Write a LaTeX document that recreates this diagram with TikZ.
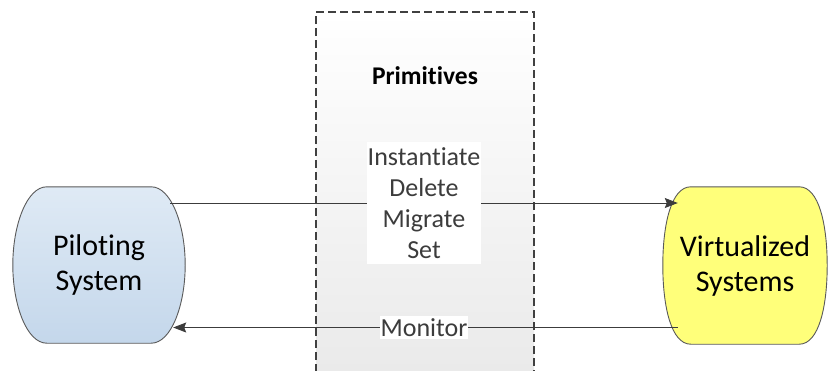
\documentclass[tikz,border=0pt]{standalone}
\usepackage{fontspec}
\setmainfont[Ligatures={NoCommon,NoContextual}]{Carlito}
\usetikzlibrary{arrows.meta,backgrounds}
\definecolor{boxLine}{RGB}{64,64,64}
\definecolor{boxTop}{RGB}{255,255,255}
\definecolor{boxBot}{RGB}{234,234,234}
\definecolor{pilTop}{RGB}{223,234,245}
\definecolor{pilBot}{RGB}{196,215,235}
\definecolor{virFill}{RGB}{255,255,122}
\definecolor{edgeLine}{RGB}{90,90,90}
\definecolor{arrLine}{RGB}{60,60,60}

% outline with bulging left/right sides, drawn round a named node
\newcommand{\sysshape}[3]{%
  \begin{scope}[on background layer]
  \draw[edgeLine,line width=0.9bp,#3]
    ([xshift=#2]#1.north west) -- ([xshift=-#2]#1.north east)
    .. controls ([xshift=-#2+20bp]#1.north east) and ([yshift=40bp]#1.east) .. (#1.east)
    .. controls ([yshift=-40bp]#1.east) and ([xshift=-#2+20bp]#1.south east) .. ([xshift=-#2]#1.south east)
    -- ([xshift=#2]#1.south west)
    .. controls ([xshift=#2-20bp]#1.south west) and ([yshift=-40bp]#1.west) .. (#1.west)
    .. controls ([yshift=40bp]#1.west) and ([xshift=#2-20bp]#1.north west) .. cycle;
  \end{scope}}

\begin{document}
\begin{tikzpicture}[x=1bp,y=-1bp,>={Stealth[length=13bp,width=10bp,inset=2bp]},
  sysbox/.style={align=center,font=\fontsize{30bp}{35bp}\selectfont,inner sep=0pt},
  prims/.style={font=\fontsize{26bp}{31bp}\selectfont,align=center},
  lbl/.style={prims,fill=white,inner xsep=1bp,inner ysep=5bp},
  fl/.style={->,line width=0.9bp,arrLine}]

\useasboundingbox (0,0) rectangle (829,370);

% primitives column
\shade[top color=boxTop,bottom color=boxBot] (316,12) rectangle (534,372);
\draw[boxLine,line width=1.1bp,dash pattern=on 8bp off 4bp] (316,372) -- (316,12) -- (534,12) -- (534,372);
\node[font=\fontsize{25.5bp}{30bp}\selectfont\bfseries] (prim) at (425,76) {Primitives};

\node[sysbox,minimum width=172bp,minimum height=156bp] (pil) at (99,265) {Piloting\\System};
\node[sysbox,minimum width=164bp,minimum height=157bp] (vir) at (745,265.5) {Virtualized\\Systems};
\sysshape{pil}{34bp}{top color=pilTop,bottom color=pilBot}
\sysshape{vir}{28bp}{fill=virFill}

\draw[fl,shorten <=-15bp,shorten >=-15bp] ([yshift=62bp]pil.east) -- node[lbl] (ops) {Instantiate\\Delete\\Migrate\\Set} ([yshift=62bp]pil.east -| vir.west);
\draw[fl,shorten <=-15bp,shorten >=-12bp] ([yshift=-62bp]vir.west) -- node[lbl,inner ysep=2bp] (mon) {Monitor} ([yshift=-62bp]vir.west -| pil.east);
\end{tikzpicture}
\end{document}
